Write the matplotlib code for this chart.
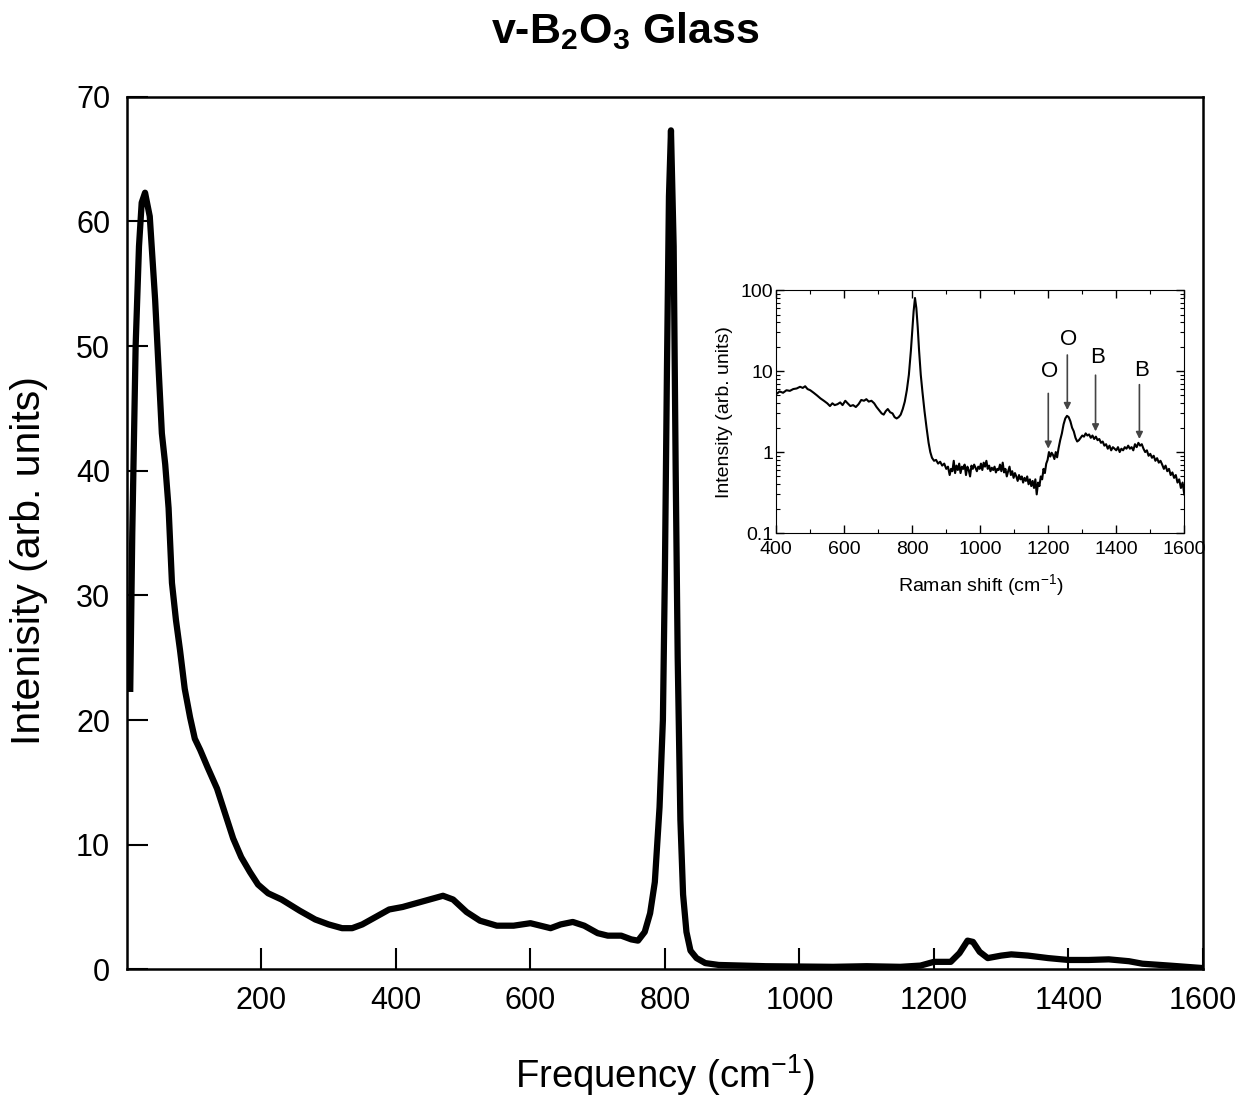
import matplotlib.pyplot as plt
from matplotlib.ticker import MultipleLocator, LogLocator, NullFormatter, FixedLocator

plt.rcParams['font.family'] = ['Liberation Sans', 'DejaVu Sans']
plt.rcParams['mathtext.fontset'] = 'custom'
plt.rcParams['mathtext.rm'] = 'Liberation Sans'
plt.rcParams['mathtext.bf'] = 'Liberation Sans:bold'
plt.rcParams['mathtext.default'] = 'rm'

# main spectrum
freq = [5, 8, 13, 18, 22, 27, 34, 42, 52, 57, 62, 67, 73, 79, 86, 94, 101, 109,
        120, 134, 146, 158, 170, 183, 195, 210, 230, 257, 280, 300, 320, 335,
        350, 370, 390, 410, 430, 450, 470, 485, 505, 525, 550, 575, 600, 615,
        630, 645, 663, 680, 700, 715, 735, 750, 760, 770, 778, 785, 792, 797,
        800, 803, 806, 809, 813, 816, 819, 823, 827, 832, 838, 847, 860, 880,
        950, 1050, 1100, 1150, 1180, 1200, 1225, 1238, 1250, 1258, 1268, 1280,
        1300, 1315, 1340, 1370, 1400, 1430, 1460, 1490, 1510, 1550, 1600]
inten = [22.5, 35, 50, 58, 61.5, 62.3, 60.4, 53.7, 43, 40.5, 37, 31, 28, 25.6,
         22.5, 20.2, 18.5, 17.6, 16.2, 14.5, 12.5, 10.5, 9, 7.8, 6.8, 6.1, 5.6,
         4.7, 4.0, 3.6, 3.3, 3.3, 3.6, 4.2, 4.8, 5.0, 5.3, 5.6, 5.9, 5.6, 4.6,
         3.9, 3.5, 3.5, 3.7, 3.5, 3.3, 3.6, 3.8, 3.5, 2.9, 2.7, 2.7, 2.4, 2.3,
         3.0, 4.5, 7, 13, 20, 32, 48, 62, 67.3, 58, 40, 25, 12, 6, 3, 1.5, 0.9,
         0.5, 0.35, 0.25, 0.2, 0.25, 0.2, 0.3, 0.6, 0.6, 1.3, 2.3, 2.2, 1.4, 0.9,
         1.1, 1.2, 1.1, 0.9, 0.75, 0.75, 0.8, 0.65, 0.45, 0.3, 0.1]

# inset: Raman spectrum on log scale
raman_x = [400, 410, 420, 430, 440, 450, 460, 470, 478, 485, 492, 500, 510, 520,
           530, 540, 550, 558, 565, 572, 580, 588, 595, 603, 610, 618, 626, 634,
           642, 650, 658, 665, 672, 680, 688, 695, 702, 710, 716, 722, 728, 735,
           742, 748, 754, 760, 766, 772, 778, 784, 790, 796, 800, 804, 808, 812,
           816, 820, 825, 830, 836, 842, 848, 853, 858, 864, 870, 876, 882, 888,
           894, 900, 905, 910, 914, 918, 922, 926, 930, 934, 938, 942, 946, 950,
           954, 958, 962, 966, 970, 974, 978, 982, 986, 990, 994, 998, 1002,
           1006, 1010, 1014, 1018, 1022, 1026, 1030, 1034, 1038, 1042, 1046,
           1050, 1054, 1058, 1062, 1066, 1070, 1074, 1078, 1082, 1086, 1090,
           1094, 1098, 1102, 1106, 1110, 1114, 1118, 1122, 1126, 1130, 1134,
           1138, 1142, 1146, 1150, 1154, 1158, 1162, 1166, 1170, 1174, 1178,
           1182, 1186, 1190, 1194, 1198, 1202, 1206, 1210, 1214, 1218, 1222,
           1226, 1230, 1235, 1240, 1245, 1250, 1255, 1260, 1265, 1270, 1275,
           1280, 1285, 1290, 1295, 1300, 1305, 1310, 1315, 1320, 1325, 1330,
           1335, 1340, 1345, 1350, 1355, 1360, 1365, 1370, 1375, 1380, 1385,
           1390, 1395, 1400, 1405, 1410, 1415, 1420, 1425, 1430, 1435, 1440,
           1445, 1450, 1455, 1460, 1465, 1470, 1475, 1480, 1485, 1490, 1495,
           1500, 1505, 1510, 1515, 1520, 1525, 1530, 1535, 1540, 1545, 1550,
           1555, 1560, 1565, 1570, 1575, 1580, 1585, 1590, 1595, 1600]
raman_y = [5.2, 5.6, 5.4, 5.8, 5.7, 6.0, 6.1, 6.4, 6.2, 6.5, 6.0, 5.8, 5.4, 5.0,
           4.6, 4.3, 4.0, 3.7, 4.0, 3.8, 3.9, 4.1, 3.8, 4.3, 4.0, 3.7, 3.8, 3.6,
           3.9, 4.4, 4.3, 4.5, 4.2, 4.3, 4.0, 3.6, 3.3, 3.0, 2.9, 3.2, 3.4, 3.1,
           3.0, 2.7, 2.6, 2.7, 2.9, 3.4, 4.2, 5.8, 9, 18, 32, 55, 80, 60,
           35, 18, 9, 5.5, 3.2, 2.0, 1.3, 1.0, 0.85, 0.78, 0.8, 0.72, 0.76, 0.68,
           0.72, 0.62, 0.66, 0.52, 0.62, 0.58, 0.78, 0.55, 0.68, 0.6, 0.72, 0.55,
           0.66, 0.62, 0.7, 0.52, 0.66, 0.6, 0.5, 0.68, 0.62, 0.7, 0.64, 0.58,
           0.66, 0.62, 0.72, 0.6, 0.74, 0.66, 0.78, 0.62, 0.68, 0.58, 0.64, 0.6,
           0.66, 0.56, 0.62, 0.6, 0.7, 0.58, 0.74, 0.56, 0.62, 0.5, 0.58, 0.66,
           0.52, 0.58, 0.48, 0.55, 0.5, 0.44, 0.52, 0.46, 0.5, 0.42, 0.48, 0.44,
           0.5, 0.4, 0.46, 0.38, 0.44, 0.36, 0.46, 0.3, 0.42, 0.38, 0.5, 0.46,
           0.62, 0.55, 0.72, 0.8, 1.0, 0.88, 0.98, 0.92, 0.82, 1.0, 0.86, 1.1,
           1.4, 1.7, 2.2, 2.6, 2.8, 2.7, 2.4, 2.0, 1.8, 1.5, 1.35, 1.4, 1.5, 1.6,
           1.55, 1.7, 1.6, 1.65, 1.5, 1.6, 1.45, 1.55, 1.4, 1.45, 1.3, 1.35, 1.2,
           1.25, 1.1, 1.2, 1.05, 1.15, 1.1, 1.05, 1.15, 1.0, 1.1, 1.05, 1.15,
           1.1, 1.2, 1.1, 1.15, 1.05, 1.25, 1.15, 1.3, 1.2, 1.25, 1.1, 1.0, 1.05,
           0.9, 0.95, 0.85, 0.9, 0.78, 0.84, 0.74, 0.78, 0.7, 0.62, 0.68, 0.58,
           0.62, 0.52, 0.56, 0.48, 0.52, 0.42, 0.46, 0.36, 0.42, 0.3]

# peak markers in inset: label, x position, arrow start, arrow end, label y
mark_labels = ['O', 'O', 'B', 'B']
mark_x = [1200, 1256, 1339, 1468]
mark_top = [5.3, 15.8, 8.9, 6.8]
mark_bot = [1.1, 3.3, 1.8, 1.45]
mark_text_y = [10, 24.5, 14.8, 10.2]

fig = plt.figure(figsize=(12.44, 10.99), dpi=100)
ax = fig.add_axes([0.102, 0.118, 0.865, 0.794])
ax.plot(freq, inten, color='black', lw=4.5, solid_joinstyle='round')
ax.set_xlim(0, 1600)
ax.set_ylim(0, 70)
ax.xaxis.set_major_locator(FixedLocator([200, 400, 600, 800, 1000, 1200, 1400, 1600]))
ax.yaxis.set_major_locator(MultipleLocator(10))
ax.tick_params(direction='in', length=15, width=1.5, labelsize=22, pad=12)
for s in ax.spines.values():
    s.set_linewidth(1.8)
ax.set_xlabel('Frequency (cm$^{-1}$)', fontsize=27.5, labelpad=26)
ax.set_ylabel('Intenisity (arb. units)', fontsize=29.5)
ax.yaxis.set_label_coords(-0.073, 0.468)
fig.text(0.503, 0.972, r'v-B$_\mathbf{2}$O$_\mathbf{3}$ Glass', fontsize=31,
         fontweight='bold', ha='center', va='center')

# inset
ins = fig.add_axes([0.624, 0.515, 0.328, 0.221])
ins.plot(raman_x, raman_y, color='black', lw=1.5)
ins.set_yscale('log')
ins.set_xlim(400, 1600)
ins.set_ylim(0.1, 100)
ins.xaxis.set_major_locator(MultipleLocator(200))
ins.xaxis.set_minor_locator(MultipleLocator(100))
ins.yaxis.set_major_locator(LogLocator(base=10))
ins.yaxis.set_minor_locator(LogLocator(base=10, subs=range(2, 10)))
ins.yaxis.set_minor_formatter(NullFormatter())
ins.set_yticks([0.1, 1, 10, 100])
ins.set_yticklabels(['0.1', '1', '10', '100'])
ins.tick_params(which='both', direction='in', top=True, right=True, labelsize=14)
ins.tick_params(axis='x', pad=6)
ins.tick_params(axis='y', pad=2)
ins.tick_params(which='major', length=6, width=1)
ins.tick_params(which='minor', length=3, width=0.8)
ins.set_xlabel('Raman shift (cm$^{-1}$)', fontsize=14, labelpad=10)
ins.set_ylabel('Intensity (arb. units)', fontsize=14, labelpad=6)

for lab, mx, top, bot, ty in zip(mark_labels, mark_x, mark_top, mark_bot, mark_text_y):
    ins.annotate('', xy=(mx, bot), xytext=(mx, top),
                 arrowprops=dict(arrowstyle='-|>', color='#444444', lw=1.2,
                                 mutation_scale=10, shrinkA=0, shrinkB=0))
    ins.text(mx + 5, ty, lab, fontsize=16, ha='center', va='center')

fig.savefig('out.png', dpi=100)
